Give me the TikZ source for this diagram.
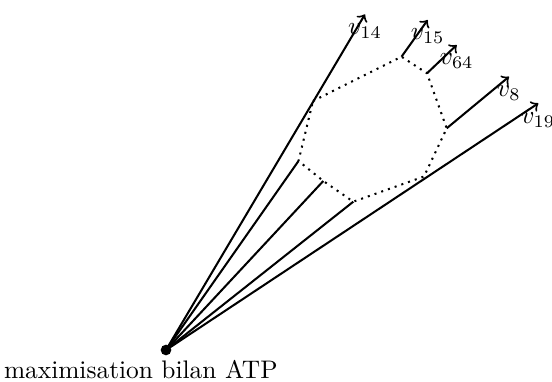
\documentclass[tikz,border=0pt]{standalone}
\begin{document}
\begin{tikzpicture}[x=0.3937pt,y=-0.3937pt,
  vec/.style={thick,->},
  ray/.style={thick},
  face/.style={thick,dotted},
  dotnode/.style={circle,fill=black,inner sep=0pt,minimum size=4.2pt},
  vlabel/.style={below}]
\useasboundingbox (0,0) rectangle (552,382);
% origin
\node[dotnode] (O) at (166,350) {};
\node[anchor=base] (lab) at (140.8,378) {maximisation bilan ATP};
% polygon vertices
\coordinate (H) at (313,101);
\coordinate (A) at (401.5,56.7);
\coordinate (B) at (427,73.3);
\coordinate (C) at (446.7,128.3);
\coordinate (D) at (424,176.5);
\coordinate (E) at (353.3,201.7);
\coordinate (F) at (323.3,181);
\coordinate (G) at (298.5,161);
% arrow tips
\coordinate (t14) at (365,14.3);
\coordinate (t15) at (427.7,20);
\coordinate (t64) at (456.7,45);
\coordinate (t8) at (509,76.7);
\coordinate (t19) at (538.3,103.3);
% dotted cross-section
\draw[face] (H) -- (A) -- (B) -- (C) -- (D) -- (E) -- (F) -- (G) -- cycle;
% rays from origin
\draw[vec] (O.center) -- (t14);
\draw[ray] (O.center) -- (G);
\draw[ray] (O.center) -- (F);
\draw[ray] (O.center) -- (E);
\draw[vec] (O.center) -- (t19);
% short vectors
\draw[vec] (A) -- (t15);
\draw[vec] (B) -- (t64);
\draw[vec] (C) -- (t8);
% labels
\node[vlabel] (l14) at (t14) {$v_{14}$};
\node[vlabel] (l15) at (t15) {$v_{15}$};
\node[vlabel] (l64) at (t64) {$v_{64}$};
\node[vlabel] (l8) at (t8) {$v_{8}$};
\node[vlabel] (l19) at (t19) {$v_{19}$};
\end{tikzpicture}
\end{document}
